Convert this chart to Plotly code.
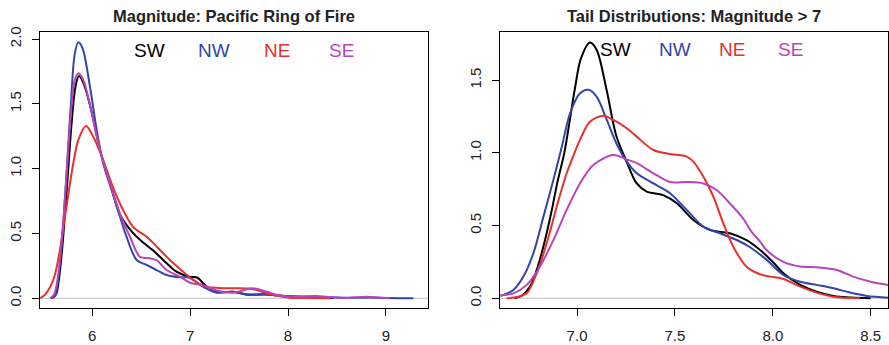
import plotly.graph_objects as go

# ---------------- data ----------------
# Left panel: Magnitude: Pacific Ring of Fire
L_SW_x = [5.59, 5.63, 5.66, 5.69, 5.72, 5.75, 5.79, 5.83, 5.864, 5.91, 5.98, 6.08, 6.20, 6.28, 6.42, 6.52, 6.62, 6.72, 6.86, 7.0, 7.07, 7.17, 7.30, 7.44, 7.58, 7.78, 8.0, 8.2, 8.46]
L_SW_y = [0.0, 0.03, 0.15, 0.36, 0.64, 0.95, 1.36, 1.64, 1.714, 1.66, 1.48, 1.14, 0.84, 0.65, 0.50, 0.43, 0.37, 0.30, 0.205, 0.165, 0.16, 0.09, 0.05, 0.05, 0.03, 0.03, 0.015, 0.01, 0.003]

L_NW_x = [5.58, 5.62, 5.65, 5.68, 5.71, 5.74, 5.78, 5.82, 5.857, 5.90, 5.977, 6.045, 6.112, 6.20, 6.283, 6.35, 6.453, 6.555, 6.657, 6.759, 6.895, 6.99, 7.13, 7.27, 7.44, 7.61, 7.78, 8.02, 8.3, 8.6, 8.9, 9.28]
L_NW_y = [0.0, 0.02, 0.14, 0.35, 0.64, 1.0, 1.48, 1.88, 1.974, 1.93, 1.63, 1.30, 1.04, 0.83, 0.63, 0.475, 0.295, 0.257, 0.218, 0.18, 0.162, 0.16, 0.089, 0.043, 0.05, 0.025, 0.03, 0.015, 0.01, 0.005, 0.005, 0.0]

L_NE_x = [5.47, 5.52, 5.568, 5.61, 5.65, 5.70, 5.755, 5.806, 5.857, 5.936, 6.01, 6.112, 6.20, 6.283, 6.418, 6.555, 6.657, 6.793, 6.929, 7.03, 7.167, 7.30, 7.44, 7.60, 7.68, 7.848, 8.017, 8.2, 8.43]
L_NE_y = [0.0, 0.03, 0.085, 0.16, 0.29, 0.52, 0.80, 1.04, 1.22, 1.328, 1.246, 1.066, 0.88, 0.73, 0.55, 0.475, 0.40, 0.295, 0.205, 0.141, 0.089, 0.08, 0.077, 0.075, 0.064, 0.025, 0.005, 0.002, 0.0]

L_SE_x = [5.57, 5.61, 5.65, 5.68, 5.71, 5.74, 5.78, 5.82, 5.86, 5.91, 5.98, 6.08, 6.2, 6.3, 6.385, 6.487, 6.589, 6.657, 6.759, 6.895, 6.997, 7.13, 7.27, 7.44, 7.64, 7.78, 7.93, 8.1, 8.29, 8.45, 8.6, 8.8, 9.04]
L_SE_y = [0.0, 0.03, 0.17, 0.38, 0.66, 0.98, 1.40, 1.68, 1.735, 1.68, 1.48, 1.14, 0.84, 0.62, 0.475, 0.32, 0.308, 0.295, 0.218, 0.167, 0.12, 0.10, 0.06, 0.043, 0.077, 0.05, 0.018, 0.012, 0.018, 0.008, 0.003, 0.012, 0.0]

# Right panel: Tail Distributions: Magnitude > 7
R_SW_x = [6.68, 6.72, 6.76, 6.80, 6.84, 6.87, 6.90, 6.935, 6.96, 6.99, 7.02, 7.066, 7.10, 7.15, 7.20, 7.25, 7.305, 7.356, 7.44, 7.51, 7.594, 7.68, 7.78, 7.866, 7.935, 8.0, 8.054, 8.14, 8.224, 8.31, 8.40, 8.50]
R_SW_y = [0.0, 0.02, 0.08, 0.22, 0.42, 0.60, 0.80, 1.0, 1.20, 1.45, 1.65, 1.76, 1.71, 1.44, 1.12, 0.95, 0.79, 0.734, 0.71, 0.654, 0.539, 0.47, 0.447, 0.40, 0.332, 0.25, 0.172, 0.092, 0.046, 0.016, 0.005, 0.0]

R_NW_x = [6.608, 6.675, 6.726, 6.777, 6.828, 6.879, 6.92, 6.964, 7.015, 7.058, 7.10, 7.152, 7.203, 7.254, 7.305, 7.39, 7.475, 7.56, 7.645, 7.73, 7.816, 7.884, 7.969, 8.054, 8.14, 8.224, 8.31, 8.394, 8.48, 8.59]
R_NW_y = [0.016, 0.057, 0.149, 0.31, 0.56, 0.814, 1.03, 1.27, 1.41, 1.434, 1.387, 1.227, 1.06, 0.94, 0.86, 0.79, 0.723, 0.608, 0.493, 0.447, 0.401, 0.351, 0.264, 0.16, 0.114, 0.092, 0.069, 0.039, 0.016, 0.004]

R_NE_x = [6.641, 6.70, 6.743, 6.794, 6.845, 6.896, 6.947, 6.973, 7.015, 7.066, 7.134, 7.185, 7.254, 7.305, 7.39, 7.475, 7.56, 7.594, 7.645, 7.696, 7.747, 7.798, 7.866, 7.935, 7.986, 8.054, 8.14, 8.224, 8.31, 8.445]
R_NE_y = [0.0, 0.01, 0.034, 0.172, 0.378, 0.63, 0.86, 0.952, 1.09, 1.215, 1.255, 1.227, 1.17, 1.112, 1.02, 0.993, 0.975, 0.94, 0.837, 0.70, 0.516, 0.355, 0.217, 0.165, 0.149, 0.133, 0.08, 0.039, 0.011, 0.0]

R_SE_x = [6.608, 6.675, 6.743, 6.81, 6.879, 6.947, 7.015, 7.083, 7.185, 7.254, 7.305, 7.39, 7.475, 7.56, 7.645, 7.713, 7.78, 7.848, 7.89, 7.935, 7.969, 8.054, 8.14, 8.224, 8.327, 8.41, 8.5, 8.59]
R_SE_y = [0.02, 0.034, 0.092, 0.217, 0.40, 0.608, 0.79, 0.917, 0.986, 0.955, 0.93, 0.86, 0.80, 0.80, 0.79, 0.745, 0.654, 0.55, 0.46, 0.39, 0.33, 0.25, 0.218, 0.213, 0.195, 0.149, 0.114, 0.092]

series_names = ["SW", "NW", "NE", "SE"]
series_colors = ["#000000", "#3344AA", "#E8302C", "#BB44BB"]

left_x = [L_SW_x, L_NW_x, L_NE_x, L_SE_x]
left_y = [L_SW_y, L_NW_y, L_NE_y, L_SE_y]
right_x = [R_SW_x, R_NW_x, R_NE_x, R_SE_x]
right_y = [R_SW_y, R_NW_y, R_NE_y, R_SE_y]

left_label_x = [6.58, 7.24, 7.89, 8.55]
left_label_y = 1.91
right_label_x = [7.194, 7.50, 7.79, 8.09]
right_label_y = 1.714

left_title = "Magnitude: Pacific Ring of Fire"
right_title = "Tail Distributions: Magnitude > 7"

left_xticks = [6, 7, 8, 9]
left_xtick_text = ["6", "7", "8", "9"]
left_yticks = [0, 0.5, 1.0, 1.5, 2.0]
right_xticks = [7.0, 7.5, 8.0, 8.5]
right_xtick_text = ["7.0", "7.5", "8.0", "8.5"]
right_yticks = [0, 0.5, 1.0, 1.5]

# ---------------- figure ----------------
W, H = 889, 345
FONT = "Liberation Sans, Arial, Helvetica, sans-serif"

fig = go.Figure()

for i in range(4):
    fig.add_trace(go.Scatter(x=left_x[i], y=left_y[i], mode="lines",
                             line=dict(color=series_colors[i], width=2, shape="spline", smoothing=0.9),
                             xaxis="x", yaxis="y", showlegend=False, hoverinfo="skip"))
for i in range(4):
    fig.add_trace(go.Scatter(x=right_x[i], y=right_y[i], mode="lines",
                             line=dict(color=series_colors[i], width=2, shape="spline", smoothing=0.9),
                             xaxis="x2", yaxis="y2", showlegend=False, hoverinfo="skip"))

def px_x(p):
    return p / W

def px_y(p):
    return 1 - p / H

axis_common = dict(showline=True, linecolor="black", linewidth=1, mirror=True,
                   ticks="outside", ticklen=7, tickwidth=1, tickcolor="black",
                   showgrid=False, zeroline=False, automargin=False,
                   tickfont=dict(family=FONT, size=15, color="#222222"))

fig.update_layout(
    width=W, height=H,
    margin=dict(l=0, r=0, t=0, b=0, autoexpand=False),
    paper_bgcolor="white", plot_bgcolor="white",
    xaxis=dict(domain=[px_x(40), px_x(428)], range=[5.466, 9.43],
               tickvals=left_xticks, ticktext=left_xtick_text, anchor="y",
               ticklabelstandoff=7, **axis_common),
    yaxis=dict(domain=[px_y(308), px_y(32)], range=[-0.075, 2.054],
               tickvals=left_yticks, tickformat=".1f", tickangle=-90, anchor="x",
               ticklabelstandoff=5, **axis_common),
    xaxis2=dict(domain=[px_x(500.3), px_x(888.3)], range=[6.608, 8.59],
                tickvals=right_xticks, ticktext=right_xtick_text, anchor="y2",
                ticklabelstandoff=7, **axis_common),
    yaxis2=dict(domain=[px_y(308), px_y(32)], range=[-0.067, 1.832],
                tickvals=right_yticks, tickformat=".1f", tickangle=-90, anchor="x2",
                ticklabelstandoff=5, **axis_common),
)

# gray zero reference lines
for xr, yr in [("x domain", "y"), ("x2 domain", "y2")]:
    fig.add_shape(type="line", xref=xr, yref=yr, x0=0, x1=1, y0=0, y1=0,
                  line=dict(color="#BEBEBE", width=1), layer="below")

# titles
fig.add_annotation(text="<b>" + left_title + "</b>", xref="paper", yref="paper",
                   x=px_x(234), y=px_y(15.7), showarrow=False,
                   font=dict(family=FONT, size=16.5, color="#222222"), xanchor="center", yanchor="middle")
fig.add_annotation(text="<b>" + right_title + "</b>", xref="paper", yref="paper",
                   x=px_x(694), y=px_y(15.7), showarrow=False,
                   font=dict(family=FONT, size=16.5, color="#222222"), xanchor="center", yanchor="middle")

# in-plot labels
for i in range(4):
    fig.add_annotation(text=series_names[i], x=left_label_x[i], y=left_label_y, xref="x", yref="y",
                       showarrow=False, font=dict(family=FONT, size=19, color=series_colors[i]),
                       xanchor="center", yanchor="middle")
    fig.add_annotation(text=series_names[i], x=right_label_x[i], y=right_label_y, xref="x2", yref="y2",
                       showarrow=False, font=dict(family=FONT, size=19, color=series_colors[i]),
                       xanchor="center", yanchor="middle")

fig.write_html("out.html")
